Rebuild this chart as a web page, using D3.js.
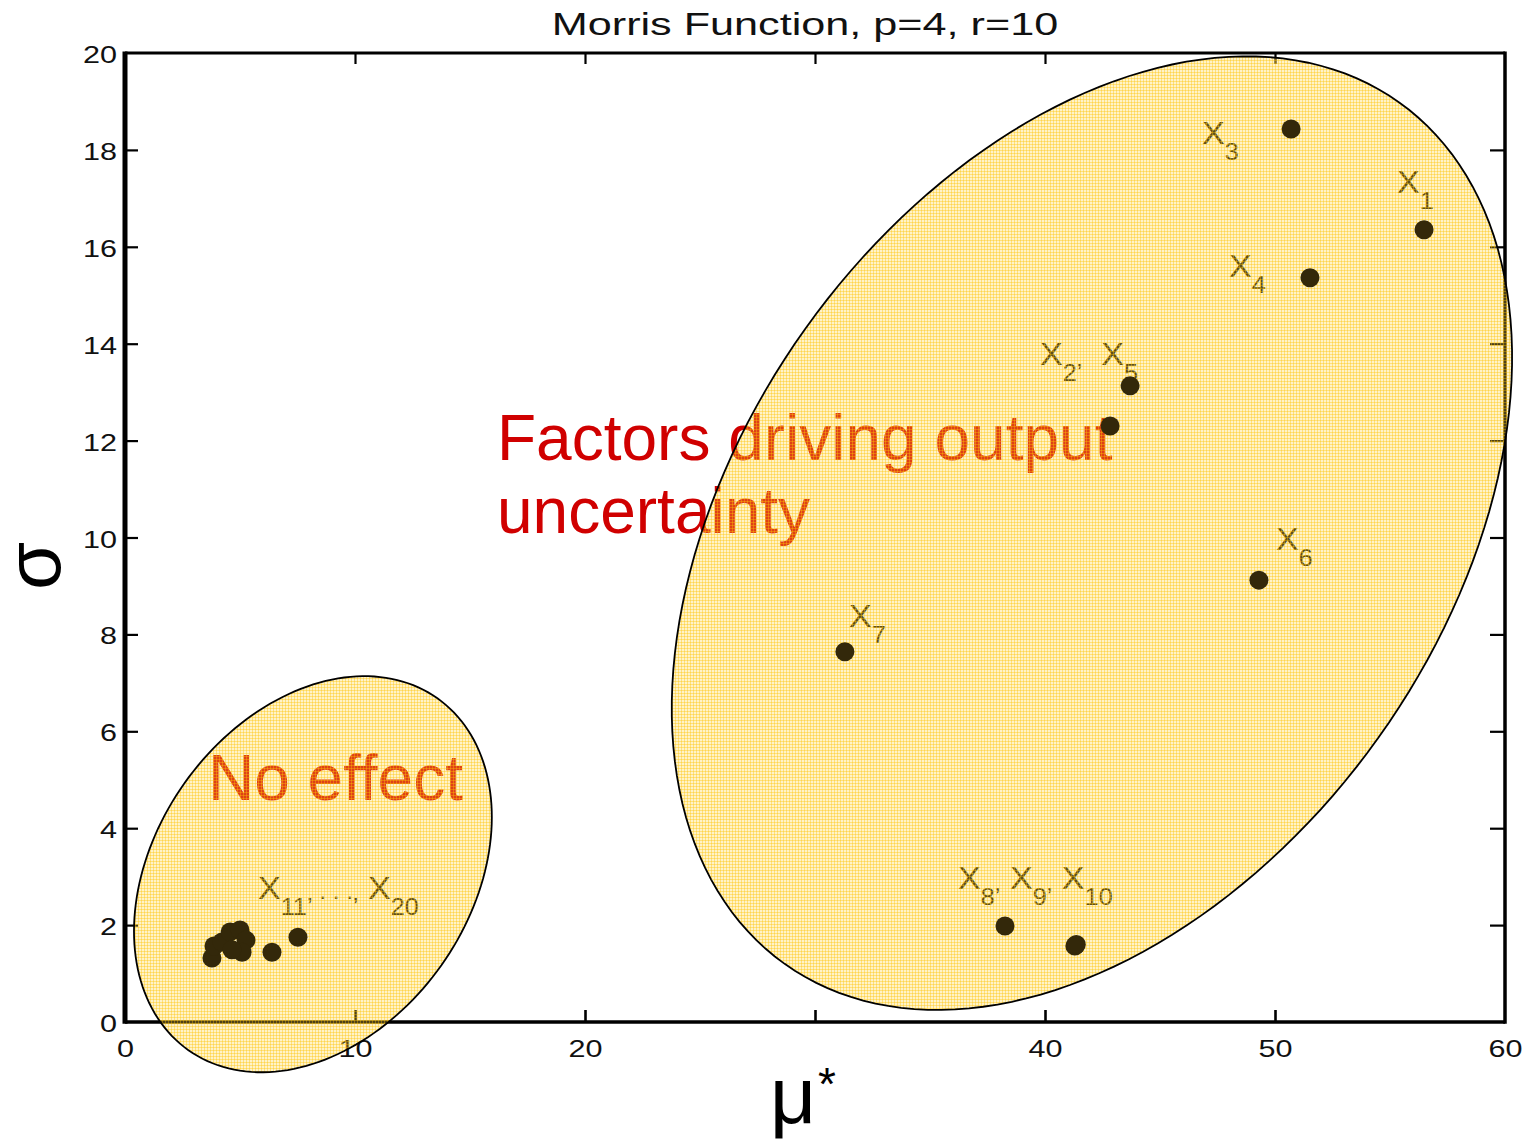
<!DOCTYPE html>
<html>
<head>
<meta charset="utf-8">
<script src="https://cdn.jsdelivr.net/npm/d3@7"></script>
<style>
  html, body { margin: 0; padding: 0; background: #fff; }
  svg { display: block; }
  text { font-family: "Liberation Sans", Arial, Helvetica, sans-serif; }
</style>
</head>
<body>
<svg id="chart" width="1528" height="1140"></svg>
<script>
// ---- data: Morris screening, mean absolute elementary effect vs. std. dev. ----
const factors = ["X1","X2","X3","X4","X5","X6","X7","X8","X9","X10",
                 "X11","X12","X13","X14","X15","X16","X17","X18","X19","X20"];
const muStar = [56.48, 42.83, 50.70, 51.52, 43.70, 49.30, 31.30, 38.26, 41.30, 41.36,
                3.78, 3.87, 4.22, 4.57, 5.00, 5.26, 5.09, 4.65, 6.39, 7.52];
const sigma  = [16.35, 12.30, 18.43, 15.36, 13.13, 9.12, 7.64, 1.98, 1.57, 1.60,
                1.32, 1.57, 1.65, 1.86, 1.90, 1.69, 1.44, 1.49, 1.44, 1.75];

const yTickValues = [0, 2, 4, 6, 8, 10, 12, 14, 16, 18, 20];
const xTickLabels = [0, 10, 20, 40, 50, 60];
const xTickMarks  = [10, 20, 30, 40, 50];
const yTickMarks  = [2, 4, 6, 8, 10, 12, 14, 16, 18];

// factor labels: segments [text, kind] (0 normal, 1 subscript, 2 small on baseline)
const labelSegments = [
  [["X", 0], ["3", 1]],
  [["X", 0], ["1", 1]],
  [["X", 0], ["4", 1]],
  [["X", 0], ["2\u2019", 1], ["  X", 0], ["5", 1]],
  [["X", 0], ["6", 1]],
  [["X", 0], ["7", 1]],
  [["X", 0], ["8\u2019", 1], [" X", 0], ["9\u2019", 1], [" X", 0], ["10", 1]],
  [["X", 0], ["11\u2019", 1], [" . . .", 2], ["\u2019", 1], [" X", 0], ["20", 1]]
];
const labelMu    = [46.83, 55.30, 48.00, 39.78, 50.04, 31.48, 36.22, 5.78];
const labelSigma = [18.12, 17.11, 15.38, 13.56, 9.74, 8.15, 2.745, 2.54];

// ---- layout ----
const svg = d3.select("#chart");
const plotLeft = 125, plotRight = 1505, plotTop = 53, plotBottom = 1022;

const x = d3.scaleLinear().domain([0, 60]).range([plotLeft, plotRight]);
const y = d3.scaleLinear().domain([0, 20]).range([plotBottom, plotTop]);

// pattern used for the cluster shading
const defs = svg.append("defs");
const pat = defs.append("pattern")
  .attr("id", "shade").attr("patternUnits", "userSpaceOnUse")
  .attr("width", 3).attr("height", 3);
pat.append("rect").attr("width", 3).attr("height", 3)
  .attr("fill", "#ffd84a").attr("fill-opacity", 0.30);
pat.append("rect").attr("width", 3).attr("height", 1)
  .attr("fill", "#ffc400").attr("fill-opacity", 0.38);
pat.append("rect").attr("width", 1).attr("height", 3)
  .attr("fill", "#ffc400").attr("fill-opacity", 0.38);

// title
svg.append("text")
  .attr("transform", "translate(805,35) scale(1.35,1)")
  .attr("text-anchor", "middle")
  .attr("font-size", 32)
  .attr("fill", "#111")
  .text("Morris Function, p=4, r=10");

const tickScale = 1.33;

// left axis: labels, then inward ticks
const gLeft = svg.append("g").attr("transform", `translate(${plotLeft},0)`)
  .call(d3.axisLeft(y).tickValues(yTickValues).tickSize(0).tickFormat(d3.format("d")));
gLeft.select(".domain").remove();
gLeft.selectAll("text")
  .attr("x", -8 / tickScale).attr("dy", 9.5)
  .attr("transform", `scale(${tickScale},1)`)
  .attr("font-size", 23).attr("font-family", null).attr("fill", "#111");
svg.append("g").attr("transform", `translate(${plotLeft},0)`)
  .call(d3.axisLeft(y).tickValues(yTickMarks).tickSize(-13).tickFormat(""))
  .call(g => g.select(".domain").remove())
  .selectAll("line").attr("stroke", "#000").attr("stroke-width", 2.2);

// right axis: inward ticks only
svg.append("g").attr("transform", `translate(${plotRight},0)`)
  .call(d3.axisRight(y).tickValues(yTickMarks).tickSize(-15).tickFormat(""))
  .call(g => g.select(".domain").remove())
  .selectAll("line").attr("stroke", "#000").attr("stroke-width", 2.2);

// bottom axis: labels and inward ticks
const gBottom = svg.append("g").attr("transform", `translate(0,${plotBottom})`)
  .call(d3.axisBottom(x).tickValues(xTickLabels).tickSize(0).tickFormat(d3.format("d")));
gBottom.select(".domain").remove();
gBottom.selectAll("text")
  .attr("y", 35).attr("dy", 0)
  .attr("transform", `scale(${tickScale},1)`)
  .attr("font-size", 23).attr("font-family", null).attr("fill", "#111");
svg.append("g").attr("transform", `translate(0,${plotBottom})`)
  .call(d3.axisBottom(x).tickValues(xTickMarks).tickSize(-12).tickFormat(""))
  .call(g => g.select(".domain").remove())
  .selectAll("line").attr("stroke", "#000").attr("stroke-width", 2.6);

// top axis: inward ticks only
svg.append("g").attr("transform", `translate(0,${plotTop})`)
  .call(d3.axisTop(x).tickValues(xTickMarks).tickSize(-11).tickFormat(""))
  .call(g => g.select(".domain").remove())
  .selectAll("line").attr("stroke", "#000").attr("stroke-width", 2.2);

// frame
svg.append("line").attr("x1", plotLeft).attr("x2", plotRight).attr("y1", plotTop).attr("y2", plotTop)
  .attr("stroke", "#000").attr("stroke-width", 3);
svg.append("line").attr("x1", plotLeft).attr("x2", plotRight).attr("y1", plotBottom).attr("y2", plotBottom)
  .attr("stroke", "#000").attr("stroke-width", 3.5);
svg.append("line").attr("x1", plotRight).attr("x2", plotRight).attr("y1", plotTop - 1.5).attr("y2", plotBottom + 1.7)
  .attr("stroke", "#000").attr("stroke-width", 3.5);
svg.append("line").attr("x1", plotLeft).attr("x2", plotLeft).attr("y1", plotTop - 1.5).attr("y2", plotBottom + 1.7)
  .attr("stroke", "#000").attr("stroke-width", 5);

// axis titles
svg.append("text")
  .attr("transform", "translate(60,566) rotate(-90)")
  .attr("text-anchor", "middle")
  .attr("font-size", 78).attr("fill", "#000")
  .text("\u03C3");
svg.append("text")
  .attr("x", 770).attr("y", 1123)
  .attr("font-size", 80).attr("fill", "#000")
  .text("\u03BC");
svg.append("text")
  .attr("x", 818).attr("y", 1100)
  .attr("font-size", 46).attr("fill", "#000")
  .text("*");

// red annotations
svg.append("text")
  .attr("x", 497).attr("y", 460)
  .attr("font-size", 64).attr("fill", "#d00000")
  .text("Factors driving output");
svg.append("text")
  .attr("x", 497).attr("y", 533)
  .attr("font-size", 64).attr("fill", "#d00000")
  .text("uncertainty");
svg.append("text")
  .attr("x", 208).attr("y", 800)
  .attr("font-size", 64).attr("fill", "#d00000")
  .text("No effect");

// factor labels (drawn beneath the shading)
const lab = svg.append("g").selectAll("text")
  .data(labelSegments.map((segs, i) => ({ segs, mu: labelMu[i], s: labelSigma[i] })))
  .join("text")
  .attr("transform", d => `translate(${x(d.mu)},${y(d.s)}) scale(1.1,1)`)
  .attr("fill", "#1a1608")
  .style("white-space", "pre")
  .attr("font-size", 31);
lab.each(function(d) {
  const t = d3.select(this);
  let shifted = false;
  d.segs.forEach(([txt, kind]) => {
    const span = t.append("tspan").text(txt);
    if (kind === 1) {
      span.attr("font-size", 23);
      if (!shifted) { span.attr("dy", 16); shifted = true; }
    } else {
      if (kind === 2) span.attr("font-size", 22);
      if (shifted) { span.attr("dy", -16); shifted = false; }
    }
  });
});

// cluster outlines (centre and semi-axis vectors in data units)
const clusters = [
  { c: [42.04, 10.09], u: [13.36, 8.89], v: [12.46, -4.22] },
  { c: [8.17, 3.05],   u: [5.413, 3.631], v: [5.587, -1.878] }
];
const angles = d3.range(0, 361, 2).map(a => a * Math.PI / 180);
const ellipsePath = d3.line()
  .x(([k, t]) => x(k.c[0] + k.u[0] * Math.cos(t) + k.v[0] * Math.sin(t)))
  .y(([k, t]) => y(k.c[1] + k.u[1] * Math.cos(t) + k.v[1] * Math.sin(t)))
  .curve(d3.curveLinearClosed);
svg.append("g").selectAll("path")
  .data(clusters)
  .join("path")
  .attr("d", k => ellipsePath(angles.map(t => [k, t])))
  .attr("fill", "url(#shade)")
  .attr("stroke", "#000")
  .attr("stroke-width", 1.8);

// points
svg.append("g").selectAll("circle")
  .data(factors.map((f, i) => ({ f, mu: muStar[i], s: sigma[i] })))
  .join("circle")
  .attr("cx", d => x(d.mu))
  .attr("cy", d => y(d.s))
  .attr("r", 9.5)
  .attr("fill", "#33280a");
</script>
</body>
</html>
